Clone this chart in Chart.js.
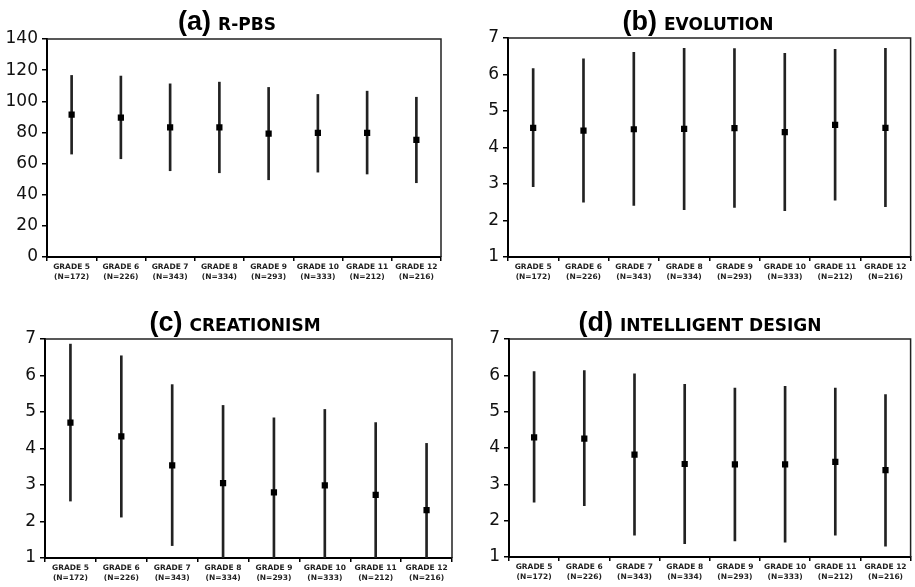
<!DOCTYPE html>
<html>
<head>
<meta charset="utf-8">
<script src="https://cdn.jsdelivr.net/npm/chart.js@4.4.1/dist/chart.umd.min.js"></script>
<style>
  body { margin: 0; background: #fff; }
  #wrap { position: relative; width: 915px; height: 587px; overflow: hidden; }
  canvas { position: absolute; }
</style>
</head>
<body>
<div id="wrap">
  <canvas id="c-a" width="457" height="290" style="left:0;top:0"></canvas>
  <canvas id="c-b" width="458" height="290" style="left:457px;top:0"></canvas>
  <canvas id="c-c" width="457" height="297" style="left:0;top:290px"></canvas>
  <canvas id="c-d" width="458" height="297" style="left:457px;top:290px"></canvas>
</div>
<script>
// categories
const grades = ['GRADE 5', 'GRADE 6', 'GRADE 7', 'GRADE 8', 'GRADE 9', 'GRADE 10', 'GRADE 11', 'GRADE 12'];
const sampleSizes = ['(N=172)', '(N=226)', '(N=343)', '(N=334)', '(N=293)', '(N=333)', '(N=212)', '(N=216)'];

// (a) R-PBS
const rpbsMean = [91.5, 89.5, 83.3, 83.3, 79.2, 79.7, 79.7, 75.2];
const rpbsLow  = [66.1, 63.1, 55.4, 54.1, 49.6, 54.5, 53.3, 47.7];
const rpbsHigh = [116.6, 116.2, 111.2, 112.3, 108.9, 104.4, 106.5, 102.6];

// (b) evolution
const evoMean = [4.54, 4.46, 4.50, 4.51, 4.53, 4.42, 4.62, 4.54];
const evoLow  = [2.93, 2.50, 2.41, 2.30, 2.36, 2.27, 2.56, 2.38];
const evoHigh = [6.16, 6.43, 6.61, 6.72, 6.71, 6.58, 6.69, 6.72];

// (c) creationism
const creMean = [4.71, 4.33, 3.54, 3.05, 2.80, 2.99, 2.73, 2.31];
const creLow  = [2.56, 2.12, 1.34, 0.92, 0.76, 0.91, 0.75, 0.48];
const creHigh = [6.86, 6.54, 5.75, 5.18, 4.84, 5.07, 4.71, 4.14];

// (d) intelligent design
const idMean = [4.29, 4.26, 3.82, 3.56, 3.55, 3.55, 3.62, 3.39];
const idLow  = [2.51, 2.41, 1.60, 1.37, 1.44, 1.41, 1.60, 1.30];
const idHigh = [6.10, 6.13, 6.04, 5.75, 5.65, 5.70, 5.65, 5.47];

const xLabels = grades.map((g, i) => [g, sampleSizes[i]]);

// title with two font sizes + box top/right lines
const panelDeco = {
  id: 'panelDeco',
  afterDraw(chart, args, opts) {
    const ctx = chart.ctx;
    const a = chart.chartArea;
    ctx.save();
    ctx.strokeStyle = '#222';
    ctx.lineWidth = 1.5;
    ctx.beginPath();
    ctx.moveTo(a.left, a.top);
    ctx.lineTo(a.right, a.top);
    ctx.lineTo(a.right, a.bottom);
    ctx.stroke();

    ctx.fillStyle = '#000';
    ctx.textBaseline = 'alphabetic';
    ctx.font = 'bold 27px "Liberation Sans", Arial, sans-serif';
    const w1 = ctx.measureText(opts.tag).width;
    ctx.font = 'bold 17px "DejaVu Sans", Verdana, sans-serif';
    const w2 = ctx.measureText(opts.name).width;
    const gap = 7;
    let x = opts.cx - (w1 + gap + w2) / 2;
    ctx.font = 'bold 27px "Liberation Sans", Arial, sans-serif';
    ctx.fillText(opts.tag, x, opts.baseline);
    ctx.font = 'bold 17px "DejaVu Sans", Verdana, sans-serif';
    ctx.fillText(opts.name, x + w1 + gap, opts.baseline);
    ctx.restore();
  }
};

function makePanel(id, tag, name, mean, low, high, yMin, yMax, step, g) {
  new Chart(document.getElementById(id), {
    type: 'bar',
    data: {
      labels: xLabels,
      datasets: [{
        type: 'line',
        data: mean,
        showLine: false,
        pointStyle: 'rect',
        pointRadius: 4.4,
        pointBackgroundColor: '#000',
        pointBorderWidth: 0,
        order: 0
      }, {
        type: 'bar',
        data: low.map((l, i) => [l, high[i]]),
        backgroundColor: '#222',
        barThickness: 2,
        order: 1
      }]
    },
    options: {
      responsive: false,
      animation: false,
      layout: { padding: { top: g.top, right: g.right, left: 0, bottom: 0 } },
      plugins: {
        legend: { display: false },
        tooltip: { enabled: false },
        panelDeco: { tag: tag, name: name, cx: g.cx, baseline: g.baseline }
      },
      scales: {
        x: {
          border: { color: '#000', width: 2 },
          grid: { display: true, drawOnChartArea: false, offset: true, tickLength: 4, color: '#000', lineWidth: 1.5 },
          ticks: {
            color: '#222',
            padding: 1,
            maxRotation: 0,
            autoSkip: false,
            font: { family: '"DejaVu Sans", Verdana, sans-serif', size: 7.5, weight: 'bold', lineHeight: 1.3 }
          },
          afterFit: s => { s.height = g.xh; }
        },
        y: {
          min: yMin,
          max: yMax,
          border: { color: '#000', width: 2 },
          grid: { display: true, drawOnChartArea: false, tickLength: 5, color: '#000', lineWidth: 1.5 },
          ticks: {
            stepSize: step,
            color: '#111',
            padding: 4,
            font: { family: '"DejaVu Sans", Verdana, sans-serif', size: 17 }
          },
          afterFit: s => { s.width = g.yw; }
        }
      }
    },
    plugins: [panelDeco]
  });
}

makePanel('c-a', '(a)', 'R-PBS', rpbsMean, rpbsLow, rpbsHigh, 0, 140, 20,
  { top: 39, right: 16, yw: 47, xh: 33, cx: 227, baseline: 30 });
makePanel('c-b', '(b)', 'EVOLUTION', evoMean, evoLow, evoHigh, 1, 7, 1,
  { top: 38, right: 0, yw: 51, xh: 33, cx: 241, baseline: 30 });
makePanel('c-c', '(c)', 'CREATIONISM', creMean, creLow, creHigh, 1, 7, 1,
  { top: 49, right: 5, yw: 45, xh: 29, cx: 235, baseline: 41 });
makePanel('c-d', '(d)', 'INTELLIGENT DESIGN', idMean, idLow, idHigh, 1, 7, 1,
  { top: 49, right: 0, yw: 52, xh: 30, cx: 243, baseline: 41 });
</script>
</body>
</html>
